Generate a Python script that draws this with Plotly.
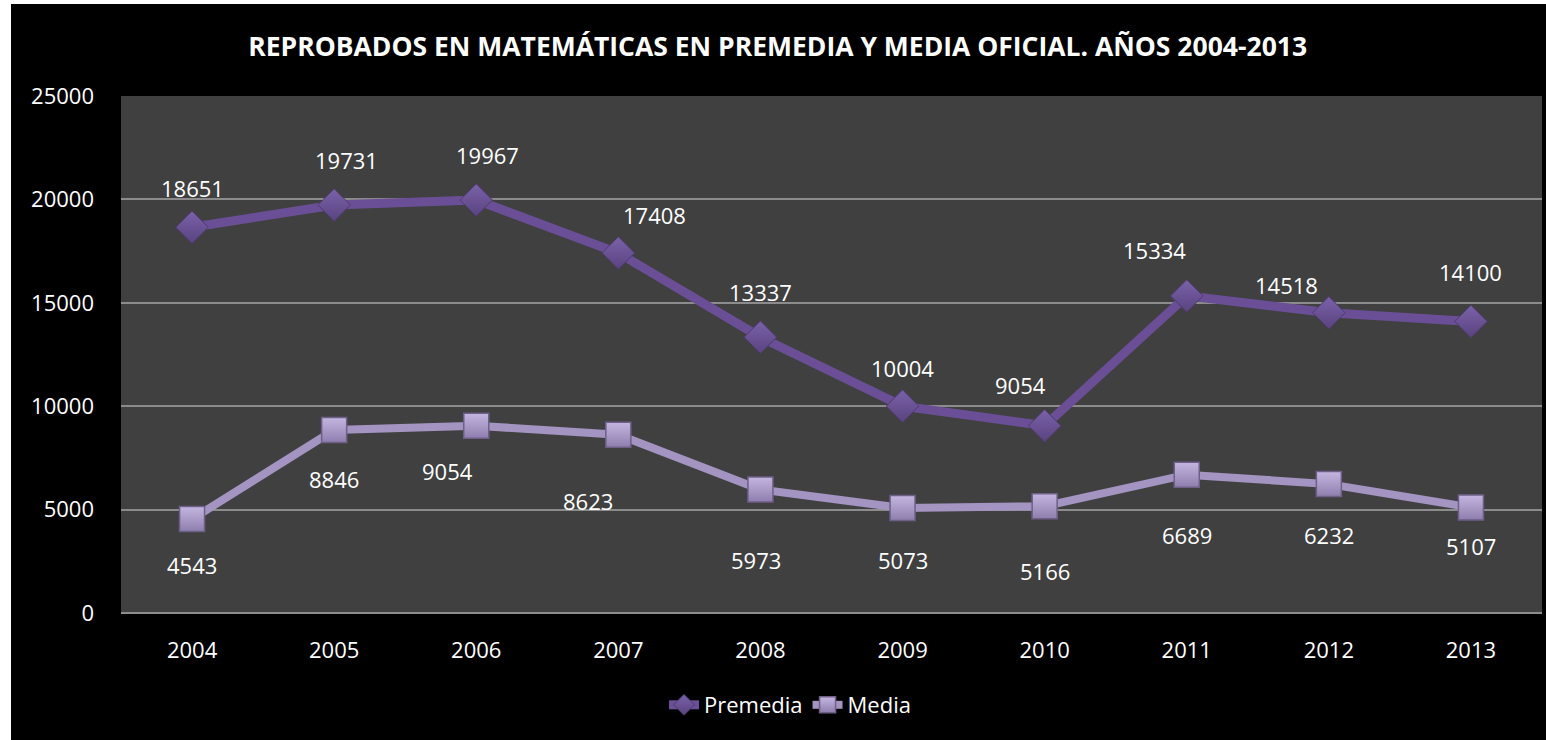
import plotly.graph_objects as go

years = ["2004", "2005", "2006", "2007", "2008", "2009", "2010", "2011", "2012", "2013"]
premedia = [18651, 19731, 19967, 17408, 13337, 10004, 9054, 15334, 14518, 14100]
media = [4543, 8846, 9054, 8623, 5973, 5073, 5166, 6689, 6232, 5107]

title = "REPROBADOS EN MATEMÁTICAS EN PREMEDIA Y MEDIA OFICIAL. AÑOS 2004-2013"

# label offsets in px (dx, dy) - labels were hand-placed in the original
premedia_off = [(0, 39), (12, 45), (11, 45), (36, 38), (0, 45), (0, 38), (-24, 41), (-32, 46), (-42, 28), (0, 49)]
media_off = [(0, -46), (0, -49), (-29, -45), (-30, -66), (-4, -71), (0, -52), (0, -65), (0, -60), (0, -51), (0, -39)]

W, H = 1546, 740
ml, mr, mt, mb = 121, 4, 96, 127
pw, ph = W - ml - mr, H - mt - mb

font = "Open Sans, Noto Sans, sans-serif"

fig = go.Figure()
fig.add_trace(go.Scatter(
    x=years, y=premedia, name="Premedia", mode="lines+markers",
    line=dict(color="#6A4F96", width=9),
    marker=dict(symbol="diamond", size=25, color="#7A62AA",
                gradient=dict(type="vertical", color="#5A437F"),
                line=dict(color="#4E3A70", width=1)),
))
fig.add_trace(go.Scatter(
    x=years, y=media, name="Media", mode="lines+markers",
    line=dict(color="#A394C2", width=8),
    marker=dict(symbol="square", size=25, color="#C4B6E0",
                gradient=dict(type="vertical", color="#8E7EAE"),
                line=dict(color="#6E5F88", width=1.5)),
))

for vals, offs in ((premedia, premedia_off), (media, media_off)):
    for i, (v, (dx, dy)) in enumerate(zip(vals, offs)):
        fig.add_annotation(x=i, y=v, text=str(v), showarrow=False,
                           xshift=dx, yshift=dy,
                           font=dict(family=font, size=22, color="white"))

# black card with thin white edge on the left/top, grey plot area
fig.add_shape(type="rect", xref="paper", yref="paper", layer="below",
              x0=(11 - ml) / pw, x1=(W - ml) / pw,
              y0=-mb / ph, y1=(ph + mt - 4) / ph,
              fillcolor="black", line_width=0)
fig.add_shape(type="rect", xref="paper", yref="paper", layer="below",
              x0=0, x1=1, y0=0, y1=1, fillcolor="#404040", line_width=0)

fig.update_layout(
    width=W, height=H,
    margin=dict(l=ml, r=mr, t=mt, b=mb),
    paper_bgcolor="white", plot_bgcolor="rgba(0,0,0,0)",
    font=dict(family=font, size=22, color="white"),
    title=dict(text="<b>" + title + "</b>", x=0.503, xanchor="center",
               y=1 - 47 / H, yanchor="middle",
               font=dict(family=font, size=26.5, color="white")),
    showlegend=True,
    legend=dict(orientation="h", x=(790 - ml) / pw, xanchor="center",
                y=(ph - (705 - mt)) / ph, yanchor="middle",
                font=dict(size=22, color="white"), bgcolor="rgba(0,0,0,0)",
                itemwidth=30),
)
fig.update_xaxes(type="category", range=[-0.5, 9.5], showgrid=False,
                 showline=False, zeroline=False, ticks="", ticklabelstandoff=22,
                 tickfont=dict(size=22, color="white"))
fig.update_yaxes(range=[0, 25000], dtick=5000, showgrid=True, gridcolor="#8C8C8C",
                 gridwidth=2, zeroline=True, zerolinecolor="#8C8C8C", zerolinewidth=2,
                 showline=False, ticks="", ticklabelstandoff=26,
                 tickfont=dict(size=22, color="white"), tickformat="d")

fig.write_html("out.html", config={"displayModeBar": False},
               post_script="document.body.style.margin='0';")
